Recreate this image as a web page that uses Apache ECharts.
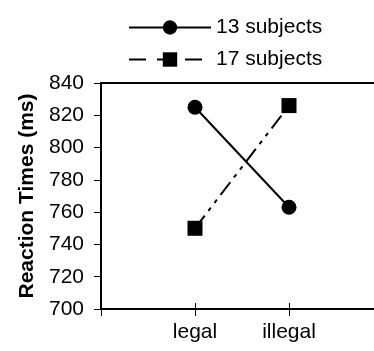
<!DOCTYPE html>
<html>
<head>
<meta charset="utf-8">
<script src="https://cdn.jsdelivr.net/npm/echarts@6/dist/echarts.min.js"></script>
<style>
html,body{margin:0;padding:0;background:#fff;}
#c{width:374px;height:351px;}
</style>
</head>
<body>
<div id="c"></div>
<script>
var categories = ['legal', 'illegal'];
var seriesNames = ['13 subjects', '17 subjects'];
var values13 = [825, 763];
var values17 = [750, 826];
var yTicks = [700, 720, 740, 760, 780, 800, 820, 840];

var FONT = "'Liberation Sans', Arial, sans-serif";
function pts(vals) { return vals.map(function (v, i) { return [i + 1, v]; }); }

var chart = echarts.init(document.getElementById('c'), null, { renderer: 'canvas' });
chart.setOption({
  animation: false,
  backgroundColor: '#fff',
  legend: {
    orient: 'vertical',
    left: 123,
    top: 12,
    itemWidth: 82,
    itemHeight: 18,
    itemGap: 11,
    textStyle: { fontFamily: FONT, fontSize: 21, color: '#000' },
    data: [
      { name: seriesNames[0] },
      { name: seriesNames[1], lineStyle: { type: [17, 11], width: 2, color: '#000' } }
    ]
  },
  grid: {
    left: 101, top: 83, width: 282, height: 226,
    outerBoundsMode: 'none', containLabel: false,
    show: true, borderColor: '#000', borderWidth: 2, backgroundColor: 'transparent'
  },
  xAxis: [{
    type: 'value', min: 0, max: categories.length + 1, interval: 1,
    axisLine: { show: true, lineStyle: { color: '#000', width: 2 } },
    axisTick: { show: true, inside: false, length: 7, lineStyle: { color: '#000', width: 1 } },
    axisLabel: {
      margin: 13, fontFamily: FONT, fontSize: 21, color: '#000',
      formatter: function (v) { return categories[v - 1] || ''; }
    },
    splitLine: { show: false }
  }, {
    type: 'value', min: 0, max: categories.length + 1, interval: 1, position: 'bottom',
    axisLine: { show: false },
    axisTick: { show: true, inside: true, length: 6, lineStyle: { color: '#000', width: 1 } },
    axisLabel: { show: false },
    splitLine: { show: false }
  }],
  yAxis: {
    type: 'value', min: yTicks[0], max: yTicks[yTicks.length - 1], interval: 20,
    name: 'Reaction Times (ms)', nameLocation: 'middle', nameGap: 63,
    nameTextStyle: { fontFamily: FONT, fontSize: 21, fontWeight: 'bold', color: '#000' },
    axisLine: { show: true, lineStyle: { color: '#000', width: 2 } },
    axisTick: { show: true, inside: false, length: 7, lineStyle: { color: '#000', width: 1 } },
    axisLabel: { margin: 17, fontFamily: FONT, fontSize: 21, color: '#000' },
    splitLine: { show: false }
  },
  series: [{
    name: seriesNames[0], type: 'line', data: pts(values13),
    symbol: 'circle', symbolSize: 15,
    lineStyle: { color: '#000', width: 2, type: 'solid' },
    itemStyle: { color: '#000' }
  }, {
    name: seriesNames[1], type: 'line', data: pts(values17),
    symbol: 'rect', symbolSize: 15,
    lineStyle: { color: '#000', width: 2, type: [16, 6, 4, 6, 4, 6] },
    itemStyle: { color: '#000' }
  }]
});
</script>
</body>
</html>
